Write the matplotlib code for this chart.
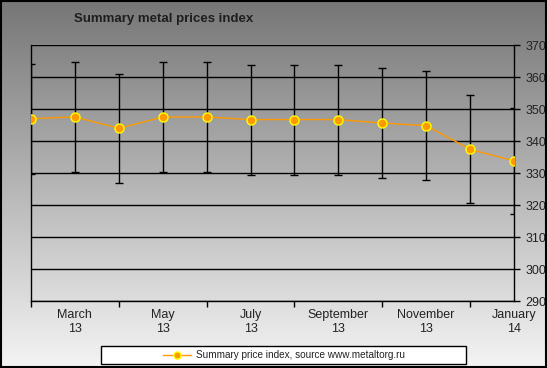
import numpy as np
import matplotlib
matplotlib.use('Agg')
from matplotlib import pyplot as plt
from matplotlib.patches import Rectangle

plt.rcParams['font.family'] = ['Liberation Sans', 'DejaVu Sans']

months = ['Feb 13', 'March\n13', 'Apr 13', 'May\n13', 'Jun 13', 'July\n13', 'Aug 13',
          'September\n13', 'Oct 13', 'November\n13', 'Dec 13', 'January\n14']
values = [347.0, 347.5, 344.0, 347.5, 347.5, 346.7, 346.7, 346.7, 345.6, 344.8, 337.4, 333.8]
errors = [17.2, 17.3, 17.0, 17.3, 17.3, 17.2, 17.2, 17.2, 17.1, 17.1, 16.9, 16.6]
y_ticks = [290, 300, 310, 320, 330, 340, 350, 360, 370]

W, H = 547, 368
fig = plt.figure(figsize=(W / 100, H / 100), dpi=100)

# gradient background over the whole figure
bg = fig.add_axes([0, 0, 1, 1], zorder=-10)
grad = np.linspace(0, 1, 256).reshape(-1, 1)
bg.imshow(grad, aspect='auto', cmap=matplotlib.colors.LinearSegmentedColormap.from_list(
    'g', ['#767676', '#f4f4f4']), extent=[0, 1, 0, 1], origin='upper')
bg.set_axis_off()

ax = fig.add_axes([31 / W, 1 - 301 / H, (514 - 31) / W, (301 - 45) / H])
ax.patch.set_alpha(0)

x = np.arange(len(values))
ax.errorbar(x, values, yerr=errors, fmt='none', ecolor='black', elinewidth=1,
            capsize=3, capthick=1, zorder=2)
ax.plot(x, values, color='#FF9900', lw=1, marker='o', markersize=6.5,
        markerfacecolor='#FF9900', markeredgecolor='#FFFF00', markeredgewidth=1,
        zorder=3, label='Summary price index, source www.metaltorg.ru')

ax.set_xlim(0, len(values) - 1)
ax.set_ylim(290, 370)
ax.set_yticks(y_ticks)
ax.yaxis.tick_right()
ax.tick_params(axis='y', direction='out', length=4, width=1, labelsize=9,
               labelcolor='#222222', pad=4)
ax.grid(axis='y', color='black', lw=1)

ax.set_xticks(x[1::2])
ax.set_xticklabels([months[i] for i in x[1::2]])
ax.set_xticks([0, 2, 4, 6, 8, 10, 11], minor=True)
ax.tick_params(axis='x', which='major', length=0, labelsize=9, labelcolor='#222222', pad=6)
ax.tick_params(axis='x', which='minor', direction='out', length=4, width=1)

ax.spines['top'].set_visible(False)
for s in ['left', 'right', 'bottom']:
    ax.spines[s].set_linewidth(1)

fig.text(74 / W, 1 - 19 / H, 'Summary metal prices index', fontsize=9.5,
         fontweight='bold', color='#1e1e1e', va='center', ha='left')

# legend box
fig.patches.append(Rectangle((101 / W, 1 - 364 / H), 365 / W, 18 / H,
                             transform=fig.transFigure, facecolor='white',
                             edgecolor='black', lw=1))
handles, labels = ax.get_legend_handles_labels()
leg = fig.legend(handles, labels, loc='center', bbox_to_anchor=(283.5 / W, 1 - 355 / H),
                 frameon=False, fontsize=7.2, handlelength=2.8, handletextpad=0.5,
                 markerscale=0.8)
for t in leg.get_texts():
    t.set_color('#222222')

# outer border
fig.patches.append(Rectangle((0.001, 0.002), 0.997, 0.995, transform=fig.transFigure,
                             fill=False, edgecolor='black', lw=1.5))

fig.savefig('out.png', dpi=100)
